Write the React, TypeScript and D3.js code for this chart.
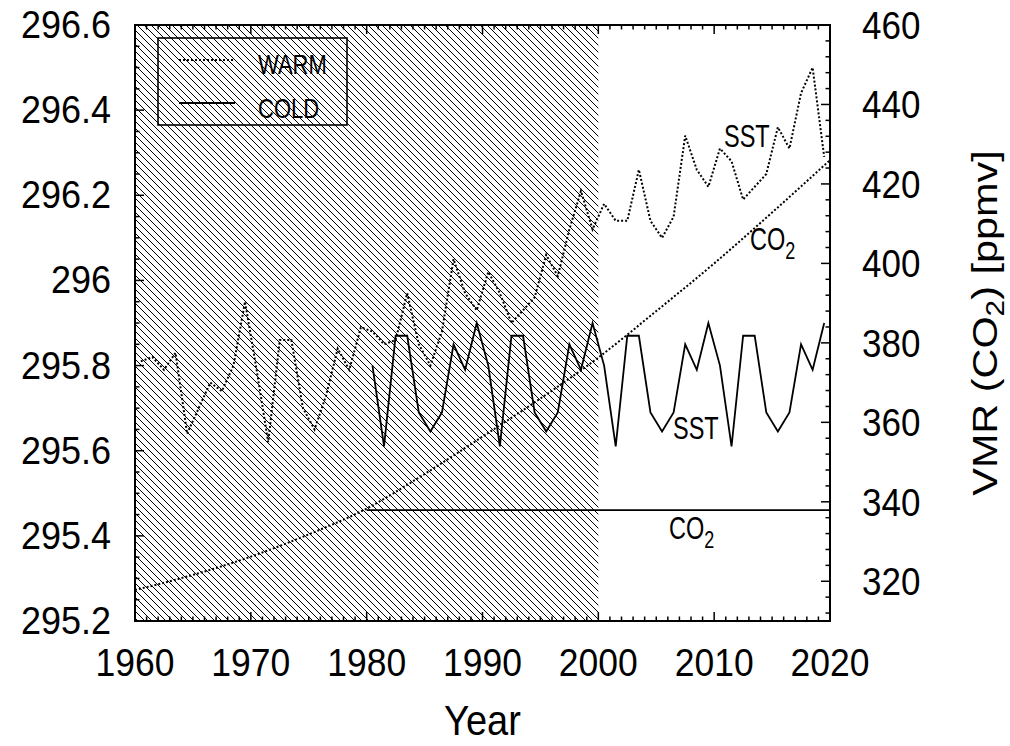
import * as d3 from 'd3';

// annual means, plotted at mid-year
const warmYears = d3.range(1960, 2020);
const warmSST = [
  295.81, 295.82, 295.79, 295.83, 295.64, 295.7, 295.76, 295.74, 295.8, 295.95,
  295.79, 295.62, 295.86, 295.86, 295.7, 295.65, 295.73, 295.84, 295.79, 295.89,
  295.88, 295.85, 295.86, 295.97, 295.85, 295.8, 295.88, 296.05, 295.97, 295.93,
  296.02, 295.97, 295.9, 295.93, 295.96, 296.06, 296.01, 296.12, 296.21, 296.12,
  296.18, 296.14, 296.14, 296.26, 296.14, 296.1, 296.15, 296.34, 296.26, 296.22,
  296.31, 296.28, 296.19, 296.22, 296.25, 296.36, 296.31, 296.44, 296.5, 296.29,
];
const coldYears = d3.range(1980, 2020);
const coldSST = [
  295.8, 295.61, 295.87, 295.87, 295.69, 295.645, 295.69, 295.85, 295.79, 295.9,
  295.8, 295.61, 295.87, 295.87, 295.69, 295.645, 295.69, 295.85, 295.79, 295.9,
  295.8, 295.61, 295.87, 295.87, 295.69, 295.645, 295.69, 295.85, 295.79, 295.9,
  295.8, 295.61, 295.87, 295.87, 295.69, 295.645, 295.69, 295.85, 295.79, 295.9,
];
const co2Years = [1960, 1965, 1970, 1975, 1980, 1985, 1990, 1995, 2000, 2005, 2010, 2015, 2020];
const warmCO2 = [317.8, 321.6, 326.2, 331.8, 338.3, 347.0, 356.4, 366.0, 376.3, 388.0, 400.0, 412.8, 426.0];
const coldCO2Years = [1980, 2020];
const coldCO2 = [337.9, 337.9];

const xTicks = [1960, 1970, 1980, 1990, 2000, 2010, 2020];
const leftTicks = [295.2, 295.4, 295.6, 295.8, 296, 296.2, 296.4, 296.6];
const leftTickLabels = ['295.2', '295.4', '295.6', '295.8', '296', '296.2', '296.4', '296.6'];
const rightTicks = [320, 340, 360, 380, 400, 420, 440, 460];
const hatchEnd = 2000;

const font = 'Liberation Sans, Arial, Helvetica, sans-serif';
const dotted = '2 2';

function Txt({ x, y, fs, sy = 1.1, anchor = 'start', children }: any) {
  return (
    <text
      transform={`translate(${x},${y}) scale(1,${sy})`}
      fontSize={fs}
      textAnchor={anchor}
      fontFamily={font}
      fill="#000"
    >
      {children}
    </text>
  );
}

export default function App() {
  const width = 1010,
    height = 746,
    marginTop = 25,
    marginRight = 180,
    marginBottom = 125,
    marginLeft = 135;
  const left = marginLeft,
    right = width - marginRight,
    top = marginTop,
    bottom = height - marginBottom;

  const x = d3.scaleLinear().domain([1960, 2020]).range([left, right]);
  const yL = d3.scaleLinear().domain([295.2, 296.6]).range([bottom, top]);
  const yR = d3.scaleLinear().domain([310, 460]).range([bottom, top]);

  const sstLine = d3
    .line<[number, number]>()
    .x((d) => x(d[0] + 0.5))
    .y((d) => yL(d[1]));
  const warmPath = sstLine(warmYears.map((yr, i) => [yr, warmSST[i]]));
  const coldPath = sstLine(coldYears.map((yr, i) => [yr, coldSST[i]]));
  const co2Line = d3
    .line<[number, number]>()
    .x((d) => x(d[0]))
    .y((d) => yR(d[1]))
    .curve(d3.curveMonotoneX);
  const warmCO2Path = co2Line(co2Years.map((yr, i) => [yr, warmCO2[i]]));
  const coldCO2Path = co2Line(coldCO2Years.map((yr, i) => [yr, coldCO2[i]]));

  const xMinor = d3.range(1961, 2020).filter((v) => v % 10 !== 0);
  const leftMinor = d3.range(0, 29).map((i) => 295.2 + i * 0.05).filter((_, i) => i % 4 !== 0);
  const rightMinor = d3.range(312, 460, 4).filter((v) => v % 20 !== 0);
  const major = 9,
    minor = 4.5;

  return (
    <svg
      width={width}
      height={height}
      style={{ position: 'absolute', left: 0, top: 0, background: '#fff' }}
    >
      <defs>
        <pattern id="hatch" patternUnits="userSpaceOnUse" width={7} height={7}>
          <path d="M0,0L7,7M-2,5L2,9M5,-2L9,2" stroke="#000" strokeWidth={1} />
        </pattern>
        <clipPath id="plot">
          <rect x={left} y={top} width={right - left} height={bottom - top} />
        </clipPath>
      </defs>
      <rect width={width} height={height} fill="#fff" />
      <rect x={left} y={top} width={x(hatchEnd) - left} height={bottom - top} fill="url(#hatch)" />

      <g clipPath="url(#plot)" fill="none" stroke="#000">
        <path d={warmCO2Path!} strokeWidth={2} strokeDasharray={dotted} />
        <path d={coldCO2Path!} strokeWidth={1.8} />
        <path d={warmPath!} strokeWidth={2} strokeDasharray={dotted} />
        <path d={coldPath!} strokeWidth={1.8} />
      </g>

      {/* ticks, pointing inward */}
      <g stroke="#000" strokeWidth={1.5}>
        {xTicks.map((t) => (
          <g key={'x' + t}>
            <line x1={x(t)} x2={x(t)} y1={bottom} y2={bottom - major} />
            <line x1={x(t)} x2={x(t)} y1={top} y2={top + major} />
          </g>
        ))}
        {xMinor.map((t) => (
          <g key={'xm' + t}>
            <line x1={x(t)} x2={x(t)} y1={bottom} y2={bottom - minor} />
            <line x1={x(t)} x2={x(t)} y1={top} y2={top + minor} />
          </g>
        ))}
        {leftTicks.map((t) => (
          <line key={'l' + t} x1={left} x2={left + major} y1={yL(t)} y2={yL(t)} />
        ))}
        {leftMinor.map((t, i) => (
          <line key={'lm' + i} x1={left} x2={left + minor} y1={yL(t)} y2={yL(t)} />
        ))}
        {rightTicks.map((t) => (
          <line key={'r' + t} x1={right} x2={right - major} y1={yR(t)} y2={yR(t)} />
        ))}
        {rightMinor.map((t) => (
          <line key={'rm' + t} x1={right} x2={right - minor} y1={yR(t)} y2={yR(t)} />
        ))}
      </g>
      <rect
        x={left}
        y={top}
        width={right - left}
        height={bottom - top}
        fill="none"
        stroke="#000"
        strokeWidth={2}
      />

      {/* tick labels */}
      {xTicks.map((t) => (
        <Txt key={'xl' + t} x={x(t)} y={676} fs={35.5} anchor="middle">
          {t}
        </Txt>
      ))}
      {leftTicks.map((t, i) => (
        <Txt key={'ll' + t} x={111} y={yL(t) + 13} fs={36} anchor="end">
          {leftTickLabels[i]}
        </Txt>
      ))}
      {rightTicks.map((t) => (
        <Txt key={'rl' + t} x={862} y={yR(t) + 14} fs={35} anchor="start">
          {t}
        </Txt>
      ))}
      <Txt x={(left + right) / 2} y={735} fs={38} anchor="middle">
        Year
      </Txt>
      <text
        transform="translate(997,323) rotate(-90) scale(1.15,1)"
        fontSize={36}
        fontFamily={font}
        textAnchor="middle"
      >
        VMR (CO
        <tspan fontSize={26} dy={7}>
          2
        </tspan>
        <tspan dy={-7}>) [ppmv]</tspan>
      </text>

      {/* legend */}
      <rect x={158} y={38} width={189} height={87} fill="none" stroke="#000" strokeWidth={1.6} />
      <line x1={179} x2={235} y1={60} y2={60} stroke="#000" strokeWidth={1.8} strokeDasharray={dotted} />
      <line x1={179} x2={235} y1={103} y2={103} stroke="#000" strokeWidth={1.8} />
      <Txt x={258} y={74} fs={22} sy={1.22}>
        WARM
      </Txt>
      <Txt x={258} y={118} fs={22} sy={1.25}>
        COLD
      </Txt>

      {/* annotations */}
      <Txt x={724} y={147} fs={23.5} sy={1.3}>
        SST
      </Txt>
      <Txt x={750} y={250} fs={23.5} sy={1.3}>
        CO<tspan fontSize={18} dy={7}>2</tspan>
      </Txt>
      <Txt x={673} y={439} fs={23.5} sy={1.3}>
        SST
      </Txt>
      <Txt x={669} y={539} fs={23.5} sy={1.3}>
        CO<tspan fontSize={18} dy={7}>2</tspan>
      </Txt>
    </svg>
  );
}
